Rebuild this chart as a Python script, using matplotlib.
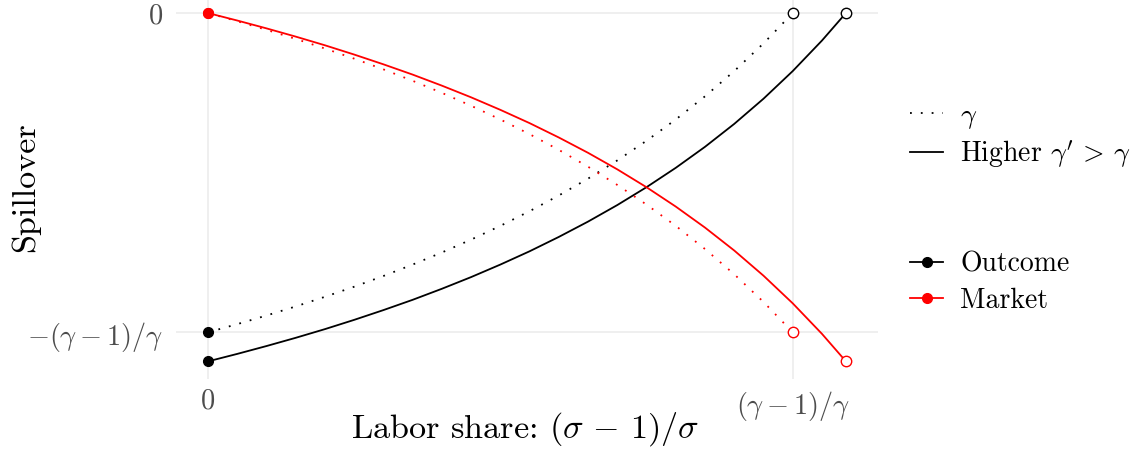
import matplotlib
matplotlib.use("Agg")
import matplotlib.pyplot as plt
from matplotlib.lines import Line2D

plt.rcParams["font.family"] = "cmr10"
plt.rcParams["mathtext.fontset"] = "cm"
plt.rcParams["axes.unicode_minus"] = False

# labor share grid and spillovers for gamma = 2, end point (gamma-1)/gamma = 0.5
share = [0.0, 0.025, 0.05, 0.075, 0.1, 0.125, 0.15, 0.175, 0.2, 0.225, 0.25,
         0.275, 0.3, 0.325, 0.35, 0.375, 0.4, 0.425, 0.45, 0.475, 0.5]
outcome = [-0.5, -0.4872, -0.4737, -0.4595, -0.4444, -0.4286, -0.4118, -0.3939,
           -0.375, -0.3548, -0.3333, -0.3103, -0.2857, -0.2593, -0.2308, -0.2,
           -0.1667, -0.1304, -0.0909, -0.0476, 0.0]
market = [0.0, -0.0128, -0.0263, -0.0405, -0.0556, -0.0714, -0.0882, -0.1061,
          -0.125, -0.1452, -0.1667, -0.1897, -0.2143, -0.2407, -0.2692, -0.3,
          -0.3333, -0.3696, -0.4091, -0.4524, -0.5]

# same for the higher gamma' = 2.2, end point 0.5455
share_hi = [0.0, 0.025, 0.05, 0.075, 0.1, 0.125, 0.15, 0.175, 0.2, 0.225, 0.25,
            0.275, 0.3, 0.325, 0.35, 0.375, 0.4, 0.425, 0.45, 0.475, 0.5, 0.525, 0.5455]
outcome_hi = [-0.5455, -0.5338, -0.5215, -0.5086, -0.495, -0.4805, -0.4652, -0.4491,
              -0.4318, -0.4135, -0.3939, -0.3731, -0.3506, -0.3266, -0.3007, -0.2727,
              -0.2424, -0.2095, -0.1736, -0.1342, -0.0909, -0.0431, 0.0]
market_hi = [0.0, -0.0117, -0.024, -0.0369, -0.0505, -0.065, -0.0803, -0.0964,
             -0.1137, -0.132, -0.1516, -0.1724, -0.1949, -0.2189, -0.2448, -0.2728,
             -0.3031, -0.336, -0.3719, -0.4113, -0.4546, -0.5024, -0.5455]

x_ticks = [0, 0.5]
x_labels = ["0", r"$(\gamma-1)/\gamma$"]
y_ticks = [-0.5, 0]
y_labels = [r"$-(\gamma-1)/\gamma$", "0"]

dotted = (0, (1, 5))
grey_txt = "#4d4d4d"
lw = 1.3

fig = plt.figure(figsize=(11.32, 4.54), dpi=100)
ax = fig.add_axes([0.1555, 0.1656, 0.6199, 0.8441])

ax.plot(share, outcome, color="black", lw=lw, ls=dotted)
ax.plot(share_hi, outcome_hi, color="black", lw=lw)
ax.plot(share, market, color="red", lw=lw, ls=dotted)
ax.plot(share_hi, market_hi, color="red", lw=lw)

# filled dots at the start, hollow circles at the end of each curve
for xs, ys, col in [(share, outcome, "black"), (share_hi, outcome_hi, "black"),
                    (share, market, "red"), (share_hi, market_hi, "red")]:
    ax.plot(xs[0], ys[0], "o", color=col, ms=7, zorder=4, clip_on=False)
    ax.plot(xs[-1], ys[-1], "o", mfc="white", mec=col, mew=1, ms=7.5,
            zorder=4, clip_on=False)

ax.set_xlim(-0.0273, 0.5727)
ax.set_ylim(-0.5728, 0.0273)
ax.set_xticks(x_ticks)
ax.set_xticklabels(x_labels)
ax.set_yticks(y_ticks)
ax.set_yticklabels(y_labels)
ax.tick_params(length=0, labelsize=20.4, labelcolor=grey_txt)
ax.tick_params(axis="y", pad=9)
ax.tick_params(axis="x", pad=7)
ax.grid(color="#ebebeb", lw=1.1)
ax.set_axisbelow(True)
for s in ax.spines.values():
    s.set_visible(False)

ax.set_xlabel(r"Labor share: $(\sigma\,-\,1)/\sigma$", fontsize=24.6, va="center")
ax.xaxis.set_label_coords(0.498, -0.13)
ax.set_ylabel("Spillover", fontsize=24.6)
ax.yaxis.set_label_coords(-0.194, 0.5)

# two separate keys: line type and colour
lt_handles = [Line2D([], [], color="black", lw=lw, ls=dotted),
              Line2D([], [], color="black", lw=lw)]
fig.legend(lt_handles, [r"$\gamma$", r"Higher $\gamma'\,>\,\gamma$"],
           loc="upper left", bbox_to_anchor=(0.804, 0.774), frameon=False,
           fontsize=20, handlelength=1.2, handletextpad=0.6,
           labelspacing=0.27, borderpad=0, borderaxespad=0)
col_handles = [Line2D([], [], color="black", lw=lw, marker="o", ms=7),
               Line2D([], [], color="red", lw=lw, marker="o", ms=7)]
fig.legend(col_handles, ["Outcome", "Market"],
           loc="upper left", bbox_to_anchor=(0.804, 0.446), frameon=False,
           fontsize=20, handlelength=1.2, handletextpad=0.6,
           labelspacing=0.34, borderpad=0, borderaxespad=0)

fig.savefig("out.png", dpi=100)
